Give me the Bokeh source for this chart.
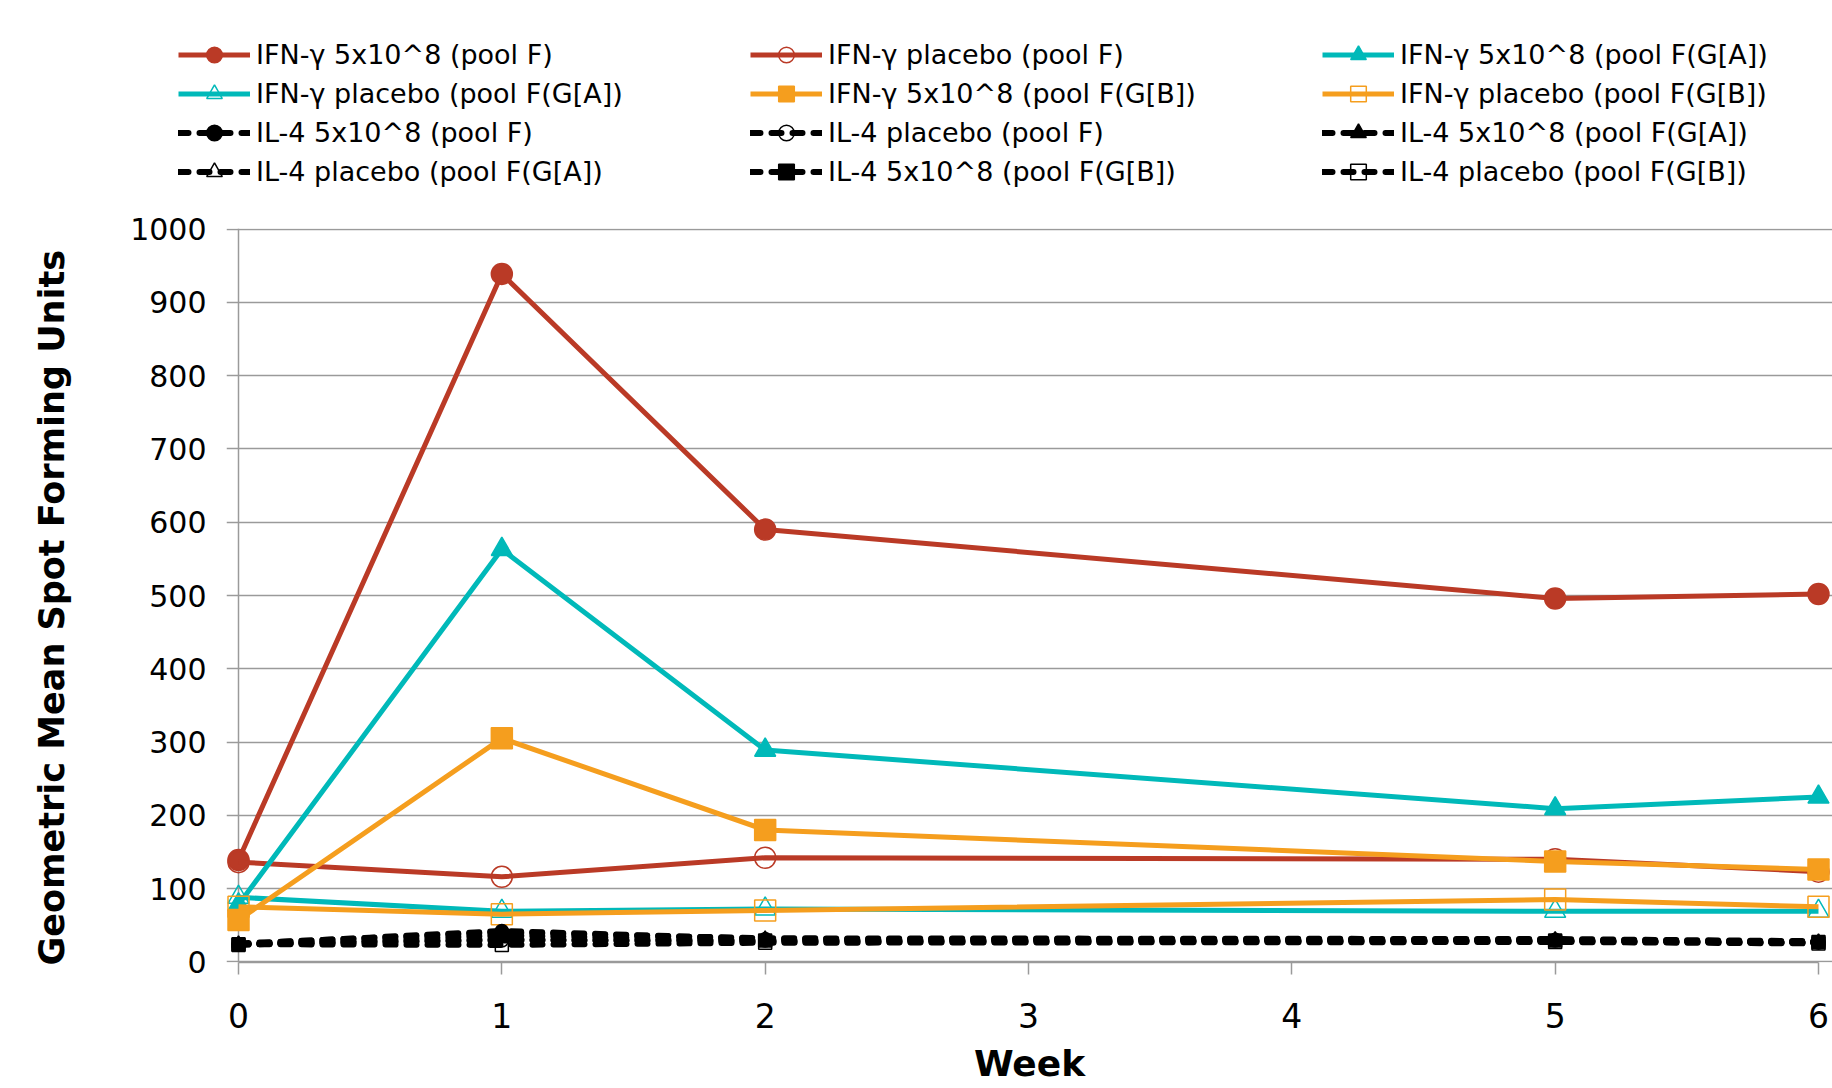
from bokeh.plotting import figure
from bokeh.models import Range1d, FixedTicker, Legend, LegendItem
from bokeh.embed import file_html
from bokeh.resources import INLINE

weeks = [0, 1, 2, 5, 6]
x_ticks = [0, 1, 2, 3, 4, 5, 6]
y_ticks = list(range(0, 1001, 100))

ifn_5e8_F = [139, 939, 590, 496, 502]
ifn_pl_F = [136, 116, 142, 140, 123]
ifn_5e8_GA = [78, 563, 289, 209, 225]
ifn_pl_GA = [88, 69, 72, 69, 69]
ifn_5e8_GB = [57, 305, 180, 137, 126]
ifn_pl_GB = [75, 65, 70, 85, 75]
il4_5e8_F = [24, 42, 31, 30, 27]
il4_pl_F = [24, 29, 29, 29, 26]
il4_5e8_GA = [25, 40, 32, 31, 28]
il4_pl_GA = [24, 31, 27, 28, 26]
il4_5e8_GB = [23, 36, 29, 29, 27]
il4_pl_GB = [24, 23, 26, 27, 25]

labels = [
    "IFN-γ 5x10^8 (pool F)", "IFN-γ placebo (pool F)", "IFN-γ 5x10^8 (pool F(G[A])",
    "IFN-γ placebo (pool F(G[A])", "IFN-γ 5x10^8 (pool F(G[B])", "IFN-γ placebo (pool F(G[B])",
    "IL-4 5x10^8 (pool F)", "IL-4 placebo (pool F)", "IL-4 5x10^8 (pool F(G[A])",
    "IL-4 placebo (pool F(G[A])", "IL-4 5x10^8 (pool F(G[B])", "IL-4 placebo (pool F(G[B])",
]
values = [ifn_5e8_F, ifn_pl_F, ifn_5e8_GA, ifn_pl_GA, ifn_5e8_GB, ifn_pl_GB,
          il4_5e8_F, il4_pl_F, il4_5e8_GA, il4_pl_GA, il4_5e8_GB, il4_pl_GB]

RED = "#BA3A26"
TEAL = "#00B9B9"
ORANGE = "#F59E1E"
BLACK = "#000000"
colors = [RED, RED, TEAL, TEAL, ORANGE, ORANGE, BLACK, BLACK, BLACK, BLACK, BLACK, BLACK]
markers = ["circle", "circle", "triangle", "triangle", "square", "square",
           "circle", "circle", "triangle", "triangle", "square", "square"]
filled = [True, False, True, False, True, False, True, False, True, False, True, False]

FONT = "DejaVu Sans"
GRAY = "#9A9A9A"


def draw_series(fig, vals, col, mk, fl):
    if col == BLACK:
        lr = fig.line(weeks, vals, line_color=col, line_width=6, line_dash="10 11",
                      line_cap="round")
        sr = fig.scatter(weeks, vals, marker=mk, size=13,
                         fill_color=col if fl else "white", fill_alpha=1.0 if fl else 0.0,
                         line_color=col, line_width=1.5)
    else:
        lr = fig.line(weeks, vals, line_color=col, line_width=5)
        sr = fig.scatter(weeks, vals, marker=mk, size=21,
                         fill_color=col if fl else None,
                         line_color=col, line_width=1.5)
    return lr, sr


# ---------------- legend strip (separate root) ----------------
LEG_H = 190
ROW = 39
leg = figure(width=1832, height=LEG_H, output_backend="svg", toolbar_location=None,
             x_range=Range1d(0, 1), y_range=Range1d(-2, -1),
             x_axis_location=None, y_axis_location=None, min_border=0)
leg.grid.visible = False
leg.outline_line_color = None

items = []
for lab, vals, col, mk, fl in zip(labels, values, colors, markers, filled):
    lr, sr = draw_series(leg, vals, col, mk, fl)
    items.append(LegendItem(label=lab, renderers=[lr, sr]))

legend = Legend(items=items, orientation="horizontal", ncols=3,
                location=(178, LEG_H - 35 - 4 * ROW), margin=0, padding=0, spacing=0,
                glyph_width=72, glyph_height=ROW, label_height=ROW, label_width=494,
                label_standoff=6, label_text_font=FONT, label_text_font_size="27px",
                label_text_color="black", label_text_baseline="middle",
                background_fill_alpha=0, border_line_color=None)
leg.add_layout(legend)

# ---------------- main chart ----------------
MAIN_H = 1088 - LEG_H
p = figure(width=1832, height=MAIN_H, output_backend="svg", toolbar_location=None,
           x_range=Range1d(-0.0456, 6.0532), y_range=Range1d(-1, 1001),
           min_border_left=226, min_border_right=0, min_border_top=228 - LEG_H,
           min_border_bottom=MAIN_H - (962 - LEG_H))
p.outline_line_color = None

p.xgrid.ticker = FixedTicker(ticks=[x_ticks[0]])
p.xgrid.grid_line_color = GRAY
p.xgrid.grid_line_width = 1.5
p.ygrid.ticker = FixedTicker(ticks=y_ticks)
p.ygrid.grid_line_color = GRAY
p.ygrid.grid_line_width = 1.5

xa = p.xaxis[0]
xa.ticker = FixedTicker(ticks=x_ticks)
xa.bounds = (x_ticks[0], x_ticks[-1])
xa.axis_line_color = GRAY
xa.axis_line_width = 1.5
xa.major_tick_line_color = GRAY
xa.major_tick_line_width = 1.5
xa.major_tick_out = 12
xa.major_tick_in = 0
xa.minor_tick_line_color = None
xa.major_label_standoff = 28
xa.major_label_text_font = FONT
xa.major_label_text_font_size = "33px"
xa.major_label_text_color = "black"
xa.axis_label = "Week"
xa.axis_label_text_font = FONT
xa.axis_label_text_font_size = "36px"
xa.axis_label_text_font_style = "bold"
xa.axis_label_text_color = "black"
xa.axis_label_standoff = 12

ya = p.yaxis[0]
ya.ticker = FixedTicker(ticks=y_ticks)
ya.axis_line_color = None
ya.major_tick_line_color = None
ya.major_tick_out = 0
ya.major_tick_in = 0
ya.minor_tick_line_color = None
ya.major_label_standoff = 20
ya.major_label_text_font = FONT
ya.major_label_text_font_size = "30px"
ya.major_label_text_color = "black"
# two trailing no-break spaces nudge the centred title slightly downwards, as in the original
ya.axis_label = "Geometric Mean Spot Forming Units\u00a0\u00a0"
ya.axis_label_text_font = FONT
ya.axis_label_text_font_size = "35px"
ya.axis_label_text_font_style = "bold"
ya.axis_label_text_color = "black"
ya.axis_label_standoff = 55

for vals, col, mk, fl in zip(values, colors, markers, filled):
    draw_series(p, vals, col, mk, fl)

open("out.html", "w").write(file_html([leg, p], INLINE))
